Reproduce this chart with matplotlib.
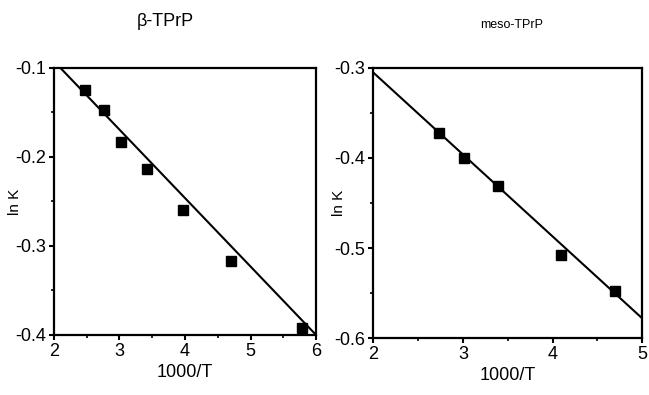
import matplotlib
matplotlib.use("Agg")
import matplotlib.pyplot as plt
from matplotlib.ticker import MultipleLocator

plt.rcParams['font.family'] = ['Liberation Sans', 'DejaVu Sans']

# beta-TPrP
beta_x = [2.48, 2.77, 3.02, 3.42, 3.97, 4.70, 5.78]
beta_y = [-0.125, -0.147, -0.183, -0.213, -0.260, -0.317, -0.392]
beta_fit_x = [2.1, 6.0]
beta_fit_y = [-0.100, -0.400]

# meso-TPrP
meso_x = [2.73, 3.01, 3.39, 4.10, 4.70]
meso_y = [-0.372, -0.400, -0.431, -0.508, -0.548]
meso_fit_x = [2.0, 5.0]
meso_fit_y = [-0.305, -0.578]

fig = plt.figure(figsize=(6.49, 3.95), dpi=100)
ax1 = fig.add_axes([0.083, 0.152, 0.404, 0.676])
ax2 = fig.add_axes([0.575, 0.144, 0.4145, 0.684])


def style(ax, xlim, ylim, xticks, yticks, ylab_x):
    ax.set_xlim(*xlim)
    ax.set_ylim(*ylim)
    ax.set_xticks(xticks)
    ax.set_yticks(yticks)
    ax.set_yticklabels([f"{v:.1f}" for v in yticks])
    ax.xaxis.set_minor_locator(MultipleLocator(0.5))
    ax.yaxis.set_minor_locator(MultipleLocator(0.05))
    ax.tick_params(which='major', direction='out', length=3.5, width=1.5,
                   labelsize=13, pad=2)
    ax.tick_params(which='minor', direction='out', length=2, width=1.2)
    for s in ax.spines.values():
        s.set_linewidth(1.6)
    ax.set_xlabel("1000/T", fontsize=13, labelpad=3)
    ax.set_ylabel("ln K", fontsize=11)
    ax.yaxis.set_label_coords(ylab_x, 0.5)


ax1.plot(beta_fit_x, beta_fit_y, color='black', lw=1.5)
ax1.plot(beta_x, beta_y, 's', color='black', markersize=7)
style(ax1, (2, 6), (-0.4, -0.1), [2, 3, 4, 5, 6], [-0.4, -0.3, -0.2, -0.1], -0.12)

ax2.plot(meso_fit_x, meso_fit_y, color='black', lw=1.5)
ax2.plot(meso_x, meso_y, 's', color='black', markersize=7)
style(ax2, (2, 5), (-0.6, -0.3), [2, 3, 4, 5], [-0.6, -0.5, -0.4, -0.3], -0.10)

fig.text(165 / 649, 1 - 22 / 395, "β-TPrP", ha='center', va='center', fontsize=13)
fig.text(512 / 649, 1 - 25 / 395, "meso-TPrP", ha='center', va='center', fontsize=9)

fig.savefig("out.png", dpi=100)
